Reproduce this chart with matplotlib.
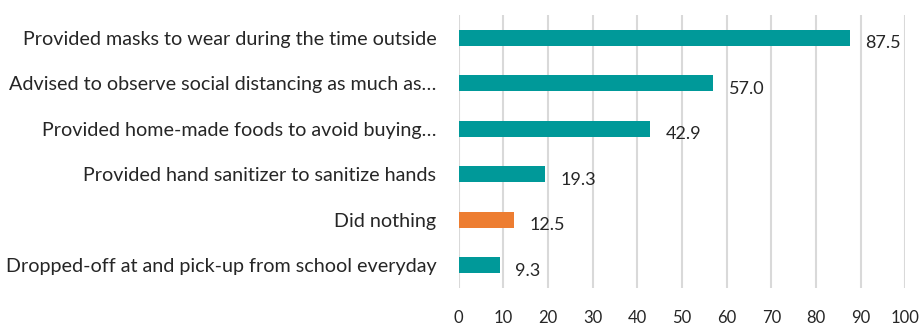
import matplotlib
matplotlib.use('Agg')
import matplotlib.pyplot as plt
import numpy as np

categories = [
    'Provided masks to wear during the time outside',
    'Advised to observe social distancing as much as\u2026',
    'Provided home-made foods to avoid buying\u2026',
    'Provided hand sanitizer to sanitize hands',
    'Did nothing',
    'Dropped-off at and pick-up from school everyday',
]
values = [87.5, 57.0, 42.9, 19.3, 12.5, 9.3]
bar_colors = ['#009999', '#009999', '#009999', '#009999', '#ED7D31', '#009999']
xticks = list(range(0, 101, 10))

plt.rcParams['font.family'] = ['Lato', 'DejaVu Sans']

fig = plt.figure(figsize=(9.21, 3.26), dpi=100)
ax = fig.add_axes([0.498, 0.117, 0.485, 0.837])

y = np.arange(len(categories))
ax.barh(y, values, height=0.35, color=bar_colors, zorder=3)
for yi, v in zip(y, values):
    ax.annotate(f'{v:.1f}', (v, yi), xytext=(11, -4), textcoords='offset points',
                va='center', ha='left', fontsize=13, color='#262626')

ax.set_xlim(0, 100)
ax.set_ylim(len(categories) - 0.5, -0.5)
ax.set_xticks(xticks)
ax.set_yticks(y)
ax.set_yticklabels(categories, fontsize=14.2, color='#262626')
ax.tick_params(axis='x', length=0, pad=16, labelsize=12, labelcolor='#262626')
ax.tick_params(axis='y', length=0, pad=16)
ax.grid(axis='x', color='#d9d9d9', linewidth=1.5, zorder=0)
for s in ax.spines.values():
    s.set_visible(False)

fig.savefig('out.png', dpi=100)
